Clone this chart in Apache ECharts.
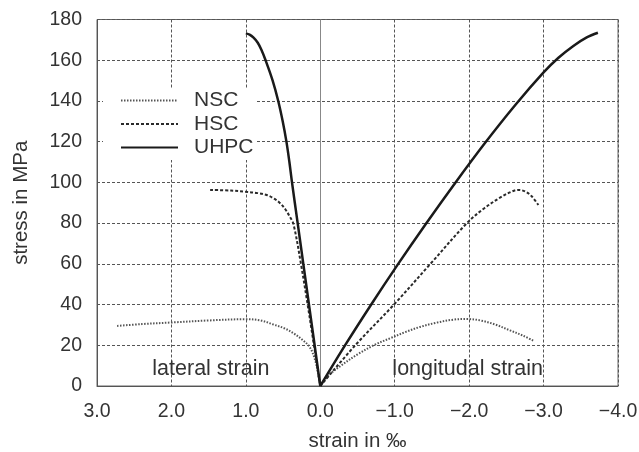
<!DOCTYPE html>
<html>
<head>
<meta charset="utf-8">
<script src="https://cdn.jsdelivr.net/npm/echarts@6/dist/echarts.min.js"></script>
<style>
html,body{margin:0;padding:0;background:#fff;}
#chart{width:639px;height:452px;}
</style>
</head>
<body>
<div id="chart"></div>
<script>
// strain in ‰ (positive = lateral, negative = longitudinal), stress in MPa
var nscLateral = [[2.73,29.5],[2.4,30.4],[2.0,31.2],[1.5,32.2],[1.0,32.8],[0.8,32.2],[0.63,30.2],[0.48,28.3],[0.36,25.9],[0.25,23.0],[0.14,19.0],[0.07,12.8],[0.03,6.2],[0,0]];
var nscLongitudinal = [[0,0],[-0.12,5.5],[-0.27,9.8],[-0.5,15.5],[-0.74,20.4],[-0.95,23.6],[-1.15,26.6],[-1.34,29.0],[-1.55,31.0],[-1.79,32.6],[-1.97,32.9],[-2.15,32.2],[-2.35,30.2],[-2.55,27.3],[-2.72,24.8],[-2.86,22.3]];
var hscLateral = [[1.48,96.3],[1.2,96.0],[1.0,95.4],[0.85,94.8],[0.72,93.8],[0.62,92.0],[0.54,89.8],[0.47,86.8],[0.41,83.2],[0.36,79.5],[0.26,60],[0.17,40],[0.085,20],[0,0]];
var hscLongitudinal = [[0,0],[-0.47,20],[-0.99,40],[-1.48,60],[-1.97,80],[-2.2,87.2],[-2.42,92.6],[-2.56,95.3],[-2.66,96.3],[-2.75,95.6],[-2.84,93.2],[-2.93,88.9]];
var uhpcLateral = [[1.0,173.2],[0.95,172.6],[0.9,171.2],[0.84,168.6],[0.79,165],[0.735,160],[0.64,150],[0.565,140],[0.505,130],[0.455,120],[0.415,110],[0.38,100],[0.304,80],[0.228,60],[0.152,40],[0.076,20],[0,0]];
var uhpcLongitudinal = [[0,0],[-0.33,19.8],[-0.68,39.8],[-1.04,59.6],[-1.42,79.7],[-1.81,99.6],[-2.21,119.2],[-2.62,138],[-3.0,154],[-3.2,161.2],[-3.4,167],[-3.58,171.2],[-3.73,173.5]];
var seriesNames = ['NSC','HSC','UHPC'];
var annotations = [{text:'lateral strain', x:1.47, y:8.5},{text:'longitudal strain', x:-1.98, y:8.5}];
var xTicks = {min:-4, max:3, interval:1};
var yTicks = {min:0, max:180, interval:20};

var FONT = '"Liberation Sans", Arial, Helvetica, sans-serif';
var chart = echarts.init(document.getElementById('chart'));

var styles = {
  NSC: {color:'#555', width:2, type:[1.5,1.5]},
  HSC: {color:'#2a2a2a', width:2, type:[3,2]},
  UHPC: {color:'#1a1a1a', width:2.5, type:'solid'}
};
function lineSeries(name, data){
  return {
    name: name, type: 'line', data: data, symbol: 'none', smooth: 0.35,
    lineStyle: styles[name], itemStyle: {color: styles[name].color},
    silent: true, z: 5
  };
}
function fmtX(v){
  if (v < 0) return '\u2212' + Math.abs(v).toFixed(1);
  return v.toFixed(1);
}

var option = {
  animation: false,
  backgroundColor: '#fff',
  textStyle: {fontFamily: FONT},
  grid: {left: 97, right: 21, top: 19.5, bottom: 66, show: true, borderColor: '#666', borderWidth: 1,
         containLabel: false, outerBoundsMode: 'none'},
  legend: {
    data: seriesNames,
    orient: 'vertical', left: 103, top: 88,
    backgroundColor: '#fff',
    padding: [2, 2, 2, 17],
    itemWidth: 57, itemHeight: 14, itemGap: 2.5,
    itemStyle: {opacity: 0},
    textStyle: {fontFamily: FONT, fontSize: 21, color: '#333', lineHeight: 20, padding: [0,0,0,11]},
    selectedMode: false
  },
  xAxis: {
    type: 'value', inverse: true, min: xTicks.min, max: xTicks.max, interval: xTicks.interval,
    name: 'strain in \u2030', nameLocation: 'middle', nameGap: 45,
    nameTextStyle: {fontFamily: FONT, fontSize: 20.5, color: '#333'},
    axisLine: {show: true, onZero: false, lineStyle: {color: '#555', width: 1}},
    axisTick: {show: false},
    axisLabel: {formatter: fmtX, fontFamily: FONT, fontSize: 19.5, color: '#333', margin: 16},
    splitLine: {show: true, lineStyle: {type: [3,2], color: '#555', width: 1}}
  },
  yAxis: {
    type: 'value', min: yTicks.min, max: yTicks.max, interval: yTicks.interval,
    name: 'stress in MPa', nameLocation: 'middle', nameGap: 65,
    nameTextStyle: {fontFamily: FONT, fontSize: 20.5, color: '#333'},
    axisLine: {show: true, onZero: false, lineStyle: {color: '#555', width: 1}},
    axisTick: {show: false},
    axisLabel: {fontFamily: FONT, fontSize: 19.5, color: '#333', margin: 15},
    splitLine: {show: true, lineStyle: {type: [3,2], color: '#555', width: 1}}
  },
  series: [
    lineSeries('NSC', nscLateral),
    lineSeries('NSC', nscLongitudinal),
    lineSeries('HSC', hscLateral),
    lineSeries('HSC', hscLongitudinal),
    lineSeries('UHPC', uhpcLateral),
    lineSeries('UHPC', uhpcLongitudinal),
    {
      name: 'notes', type: 'scatter', symbolSize: 0, silent: true, z: 3,
      itemStyle: {color: '#333'},
      data: annotations.map(function(a){
        return {value: [a.x, a.y], label: {show: true, position: 'inside', formatter: a.text,
          fontFamily: FONT, fontSize: 21.5, color: '#333', textBorderWidth: 0, opacity: 1}};
      }),
      markLine: {
        silent: true, symbol: 'none', animation: false,
        label: {show: false},
        lineStyle: {type: 'solid', color: '#888', width: 1},
        data: [{xAxis: 0}]
      }
    }
  ]
};
chart.setOption(option);
</script>
</body>
</html>
